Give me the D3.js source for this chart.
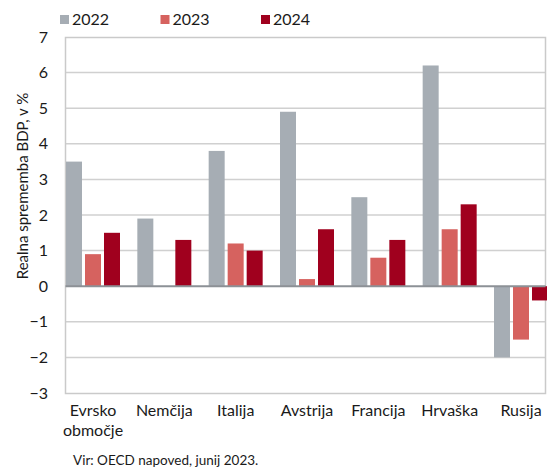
<!DOCTYPE html>
<html>
<head>
<meta charset="utf-8">
<script src="https://cdn.jsdelivr.net/npm/d3@7"></script>
<style>
  body { margin: 0; background: #fff; }
  svg { display: block; font-family: Lato, "Open Sans", sans-serif; }
</style>
</head>
<body>
<div id="chart"></div>
<script>
// GDP growth, OECD forecast June 2023
const categories = [['Evrsko', 'območje'], ['Nemčija'], ['Italija'], ['Avstrija'], ['Francija'], ['Hrvaška'], ['Rusija']];
const years = ['2022', '2023', '2024'];
const values2022 = [3.5, 1.9, 3.8, 4.9, 2.5, 6.2, -2.0];
const values2023 = [0.9, 0.0, 1.2, 0.2, 0.8, 1.6, -1.5];
const values2024 = [1.5, 1.3, 1.0, 1.6, 1.3, 2.3, -0.4];
const yTicks = [-3, -2, -1, 0, 1, 2, 3, 4, 5, 6, 7];
const colors = ['#a6adb4', '#d6625f', '#a0001e'];

const width = 547, height = 467;
const plot = { left: 65.5, right: 545.5, top: 37.5, bottom: 393.5 };

const svg = d3.select('#chart').append('svg')
  .attr('width', width)
  .attr('height', height);

const catKeys = categories.map(c => c.join(' '));
const series = [values2022, values2023, values2024];

const x = d3.scaleBand()
  .domain(catKeys)
  .range([66, 548])
  .paddingInner(0.243)
  .paddingOuter(0);

const xYear = d3.scaleBand()
  .domain(years)
  .range([0, x.bandwidth()])
  .paddingInner(0.158)
  .paddingOuter(0);

const y = d3.scaleLinear().domain([-3, 7]).range([393, 37]);

// gridlines
svg.append('g')
  .selectAll('line')
  .data(yTicks.filter(d => d !== 0 && d !== 7 && d !== -3))
  .enter()
  .append('line')
  .attr('x1', plot.left)
  .attr('x2', plot.right)
  .attr('y1', d => y(d))
  .attr('y2', d => y(d))
  .attr('stroke', '#d0d0d0')
  .attr('stroke-width', 1.5);

// frame
svg.append('rect')
  .attr('x', plot.left)
  .attr('y', plot.top)
  .attr('width', plot.right - plot.left)
  .attr('height', plot.bottom - plot.top)
  .attr('fill', 'none')
  .attr('stroke', '#cacaca')
  .attr('stroke-width', 1.5);

// bars
const bars = [];
series.forEach((vals, si) => {
  vals.forEach((v, ci) => {
    bars.push({ cat: catKeys[ci], year: years[si], value: v, si });
  });
});

svg.append('g')
  .selectAll('rect')
  .data(bars.filter(d => d.value !== 0))
  .enter()
  .append('rect')
  .attr('x', d => x(d.cat) + xYear(d.year))
  .attr('width', xYear.bandwidth())
  .attr('y', d => y(Math.max(0, d.value)))
  .attr('height', d => Math.abs(y(d.value) - y(0)))
  .attr('fill', d => colors[d.si]);

// zero line
svg.append('line')
  .attr('x1', plot.left)
  .attr('x2', plot.right)
  .attr('y1', y(0))
  .attr('y2', y(0))
  .attr('stroke', '#8c9196')
  .attr('stroke-width', 2);

// y axis labels
const yAxis = d3.axisLeft(y).tickValues(yTicks).tickSize(0).tickPadding(0);
const yg = svg.append('g')
  .attr('transform', 'translate(48,0)')
  .call(yAxis);
yg.select('.domain').remove();
yg.selectAll('text')
  .attr('font-size', 16)
  .attr('font-family', 'Lato, sans-serif')
  .attr('fill', '#1a1a1a');

// y axis title
svg.append('text')
  .attr('transform', 'translate(28,186) rotate(-90)')
  .attr('text-anchor', 'middle')
  .attr('font-size', 15)
  .attr('fill', '#1a1a1a')
  .text('Realna sprememba BDP, v %');

// category labels
const catLabels = svg.append('g')
  .selectAll('text')
  .data(categories)
  .enter()
  .append('text')
  .attr('x', (d, i) => x(catKeys[i]) + x.bandwidth() / 2)
  .attr('y', 416)
  .attr('text-anchor', 'middle')
  .attr('font-size', 16)
  .attr('fill', '#1a1a1a');

catLabels.selectAll('tspan')
  .data(d => d)
  .enter()
  .append('tspan')
  .attr('x', function () { return d3.select(this.parentNode).attr('x'); })
  .attr('dy', (d, i) => i === 0 ? 0 : 20)
  .text(d => d);

// legend
const legend = svg.append('g')
  .selectAll('g')
  .data(years)
  .enter()
  .append('g')
  .attr('transform', (d, i) => `translate(${60 + i * 100.5},0)`);

legend.append('rect')
  .attr('x', 0)
  .attr('y', 15)
  .attr('width', 9)
  .attr('height', 9)
  .attr('fill', (d, i) => colors[i]);

legend.append('text')
  .attr('x', 12)
  .attr('y', 25)
  .attr('font-size', 16)
  .attr('fill', '#1a1a1a')
  .text(d => d);

// source
svg.append('text')
  .attr('x', 73)
  .attr('y', 465)
  .attr('font-size', 13.5)
  .attr('fill', '#1a1a1a')
  .text('Vir: OECD napoved, junij 2023.');
</script>
</body>
</html>
